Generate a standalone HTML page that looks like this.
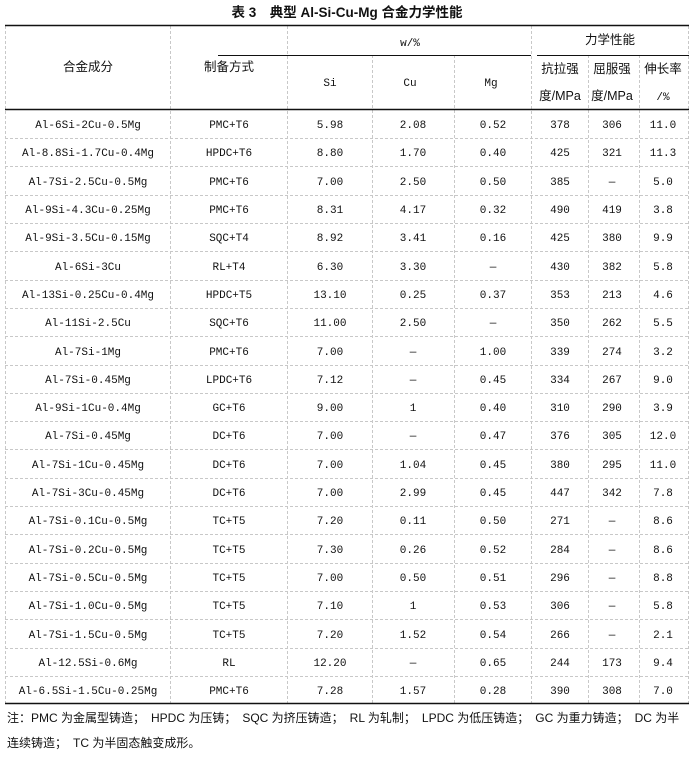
<!DOCTYPE html>
<html><head><meta charset="utf-8"><style>
html,body{margin:0;padding:0;background:#fff;}
svg text{font-family:"Liberation Mono","Noto Sans CJK SC",monospace;font-size:11px;fill:#111;}
.c{font-family:"Liberation Sans","Noto Sans CJK SC",sans-serif;font-size:12.5px;}
</style></head><body>
<svg width="694" height="754" viewBox="0 0 694 754" xmlns="http://www.w3.org/2000/svg">
<text x="347" y="17" text-anchor="middle" class="c" style="font-size:13.5px;font-weight:bold">表 3　典型 Al-Si-Cu-Mg 合金力学性能</text>
<g stroke="#c8c8c8" stroke-dasharray="3,2" stroke-width="1">
<line x1="5.5" y1="26" x2="5.5" y2="703"/>
<line x1="688.5" y1="26" x2="688.5" y2="703"/>
<line x1="170.5" y1="26" x2="170.5" y2="703"/>
<line x1="287.5" y1="26" x2="287.5" y2="703"/>
<line x1="372.5" y1="55" x2="372.5" y2="703"/>
<line x1="454.5" y1="55" x2="454.5" y2="703"/>
<line x1="531.5" y1="26" x2="531.5" y2="703"/>
<line x1="588.5" y1="55" x2="588.5" y2="703"/>
<line x1="639.5" y1="55" x2="639.5" y2="703"/>
<g id="hl"></g>
</g>
<g stroke="#c8c8c8" stroke-dasharray="3,2">
<line x1="5" y1="138.5" x2="689" y2="138.5"/><line x1="5" y1="166.5" x2="689" y2="166.5"/>
<line x1="5" y1="195.5" x2="689" y2="195.5"/><line x1="5" y1="223.5" x2="689" y2="223.5"/>
<line x1="5" y1="251.5" x2="689" y2="251.5"/><line x1="5" y1="280.5" x2="689" y2="280.5"/>
<line x1="5" y1="308.5" x2="689" y2="308.5"/><line x1="5" y1="336.5" x2="689" y2="336.5"/>
<line x1="5" y1="365.5" x2="689" y2="365.5"/><line x1="5" y1="393.5" x2="689" y2="393.5"/>
<line x1="5" y1="421.5" x2="689" y2="421.5"/><line x1="5" y1="449.5" x2="689" y2="449.5"/>
<line x1="5" y1="478.5" x2="689" y2="478.5"/><line x1="5" y1="506.5" x2="689" y2="506.5"/>
<line x1="5" y1="534.5" x2="689" y2="534.5"/><line x1="5" y1="563.5" x2="689" y2="563.5"/>
<line x1="5" y1="591.5" x2="689" y2="591.5"/><line x1="5" y1="619.5" x2="689" y2="619.5"/>
<line x1="5" y1="648.5" x2="689" y2="648.5"/><line x1="5" y1="676.5" x2="689" y2="676.5"/>
</g>
<g stroke="#111">
<line x1="5" y1="25.5" x2="689" y2="25.5" stroke-width="1.5"/>
<line x1="5" y1="109.5" x2="689" y2="109.5" stroke-width="1.5"/>
<line x1="5" y1="703.5" x2="689" y2="703.5" stroke-width="1.5"/>
<line x1="218" y1="55.5" x2="531" y2="55.5"/>
<line x1="537" y1="55.5" x2="689" y2="55.5"/>
</g>
<g text-anchor="middle">
<text x="88" y="71" class="c">合金成分</text>
<text x="229" y="71" class="c">制备方式</text>
<text x="410" y="46">w/%</text>
<text x="610" y="44" class="c">力学性能</text>
<text x="330" y="86">Si</text><text x="410" y="86">Cu</text><text x="491" y="86">Mg</text>
<text x="560" y="73" class="c">抗拉强</text><text x="612" y="73" class="c">屈服强</text><text x="663" y="73" class="c">伸长率</text>
<text x="560" y="100" class="c">度/MPa</text><text x="612" y="100" class="c">度/MPa</text><text x="663" y="100">/%</text>
</g>
<g text-anchor="middle" id="rows">
<script type="text/javascript"></script>
</g>
<g text-anchor="middle">
<g transform="translate(0,128)"><text x="88">Al-6Si-2Cu-0.5Mg</text><text x="229">PMC+T6</text><text x="330">5.98</text><text x="413">2.08</text><text x="493">0.52</text><text x="560">378</text><text x="612">306</text><text x="663">11.0</text></g>
<g transform="translate(0,156)"><text x="88">Al-8.8Si-1.7Cu-0.4Mg</text><text x="229">HPDC+T6</text><text x="330">8.80</text><text x="413">1.70</text><text x="493">0.40</text><text x="560">425</text><text x="612">321</text><text x="663">11.3</text></g>
<g transform="translate(0,185)"><text x="88">Al-7Si-2.5Cu-0.5Mg</text><text x="229">PMC+T6</text><text x="330">7.00</text><text x="413">2.50</text><text x="493">0.50</text><text x="560">385</text><text x="612">—</text><text x="663">5.0</text></g>
<g transform="translate(0,213)"><text x="88">Al-9Si-4.3Cu-0.25Mg</text><text x="229">PMC+T6</text><text x="330">8.31</text><text x="413">4.17</text><text x="493">0.32</text><text x="560">490</text><text x="612">419</text><text x="663">3.8</text></g>
<g transform="translate(0,241)"><text x="88">Al-9Si-3.5Cu-0.15Mg</text><text x="229">SQC+T4</text><text x="330">8.92</text><text x="413">3.41</text><text x="493">0.16</text><text x="560">425</text><text x="612">380</text><text x="663">9.9</text></g>
<g transform="translate(0,270)"><text x="88">Al-6Si-3Cu</text><text x="229">RL+T4</text><text x="330">6.30</text><text x="413">3.30</text><text x="493">—</text><text x="560">430</text><text x="612">382</text><text x="663">5.8</text></g>
<g transform="translate(0,298)"><text x="88">Al-13Si-0.25Cu-0.4Mg</text><text x="229">HPDC+T5</text><text x="330">13.10</text><text x="413">0.25</text><text x="493">0.37</text><text x="560">353</text><text x="612">213</text><text x="663">4.6</text></g>
<g transform="translate(0,326)"><text x="88">Al-11Si-2.5Cu</text><text x="229">SQC+T6</text><text x="330">11.00</text><text x="413">2.50</text><text x="493">—</text><text x="560">350</text><text x="612">262</text><text x="663">5.5</text></g>
<g transform="translate(0,355)"><text x="88">Al-7Si-1Mg</text><text x="229">PMC+T6</text><text x="330">7.00</text><text x="413">—</text><text x="493">1.00</text><text x="560">339</text><text x="612">274</text><text x="663">3.2</text></g>
<g transform="translate(0,383)"><text x="88">Al-7Si-0.45Mg</text><text x="229">LPDC+T6</text><text x="330">7.12</text><text x="413">—</text><text x="493">0.45</text><text x="560">334</text><text x="612">267</text><text x="663">9.0</text></g>
<g transform="translate(0,411)"><text x="88">Al-9Si-1Cu-0.4Mg</text><text x="229">GC+T6</text><text x="330">9.00</text><text x="413">1</text><text x="493">0.40</text><text x="560">310</text><text x="612">290</text><text x="663">3.9</text></g>
<g transform="translate(0,439)"><text x="88">Al-7Si-0.45Mg</text><text x="229">DC+T6</text><text x="330">7.00</text><text x="413">—</text><text x="493">0.47</text><text x="560">376</text><text x="612">305</text><text x="663">12.0</text></g>
<g transform="translate(0,468)"><text x="88">Al-7Si-1Cu-0.45Mg</text><text x="229">DC+T6</text><text x="330">7.00</text><text x="413">1.04</text><text x="493">0.45</text><text x="560">380</text><text x="612">295</text><text x="663">11.0</text></g>
<g transform="translate(0,496)"><text x="88">Al-7Si-3Cu-0.45Mg</text><text x="229">DC+T6</text><text x="330">7.00</text><text x="413">2.99</text><text x="493">0.45</text><text x="560">447</text><text x="612">342</text><text x="663">7.8</text></g>
<g transform="translate(0,524)"><text x="88">Al-7Si-0.1Cu-0.5Mg</text><text x="229">TC+T5</text><text x="330">7.20</text><text x="413">0.11</text><text x="493">0.50</text><text x="560">271</text><text x="612">—</text><text x="663">8.6</text></g>
<g transform="translate(0,553)"><text x="88">Al-7Si-0.2Cu-0.5Mg</text><text x="229">TC+T5</text><text x="330">7.30</text><text x="413">0.26</text><text x="493">0.52</text><text x="560">284</text><text x="612">—</text><text x="663">8.6</text></g>
<g transform="translate(0,581)"><text x="88">Al-7Si-0.5Cu-0.5Mg</text><text x="229">TC+T5</text><text x="330">7.00</text><text x="413">0.50</text><text x="493">0.51</text><text x="560">296</text><text x="612">—</text><text x="663">8.8</text></g>
<g transform="translate(0,609)"><text x="88">Al-7Si-1.0Cu-0.5Mg</text><text x="229">TC+T5</text><text x="330">7.10</text><text x="413">1</text><text x="493">0.53</text><text x="560">306</text><text x="612">—</text><text x="663">5.8</text></g>
<g transform="translate(0,638)"><text x="88">Al-7Si-1.5Cu-0.5Mg</text><text x="229">TC+T5</text><text x="330">7.20</text><text x="413">1.52</text><text x="493">0.54</text><text x="560">266</text><text x="612">—</text><text x="663">2.1</text></g>
<g transform="translate(0,666)"><text x="88">Al-12.5Si-0.6Mg</text><text x="229">RL</text><text x="330">12.20</text><text x="413">—</text><text x="493">0.65</text><text x="560">244</text><text x="612">173</text><text x="663">9.4</text></g>
<g transform="translate(0,694)"><text x="88">Al-6.5Si-1.5Cu-0.25Mg</text><text x="229">PMC+T6</text><text x="330">7.28</text><text x="413">1.57</text><text x="493">0.28</text><text x="560">390</text><text x="612">308</text><text x="663">7.0</text></g>
</g>
<text x="7" y="722" class="c" style="font-size:12px">注：PMC 为金属型铸造；　HPDC 为压铸；　SQC 为挤压铸造；　RL 为轧制；　LPDC 为低压铸造；　GC 为重力铸造；　DC 为半</text>
<text x="7" y="747" class="c" style="font-size:12px">连续铸造；　TC 为半固态触变成形。</text>
</svg>
</body></html>
